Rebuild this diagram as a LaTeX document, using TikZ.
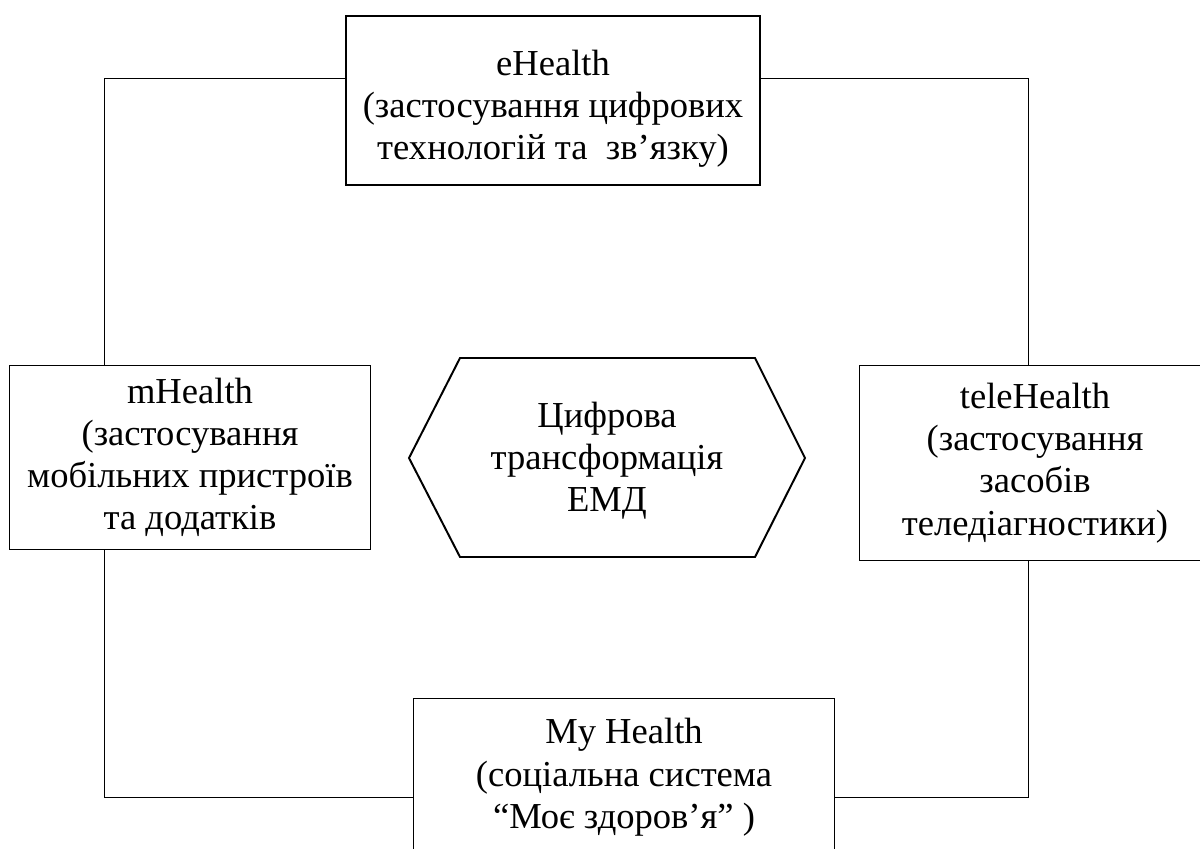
\documentclass[tikz,border=0pt]{standalone}
\usepackage{fontspec}
\setmainfont{Liberation Serif}
\usetikzlibrary{positioning}

\tikzset{
    box/.style={draw, line width=0.7pt, align=center, inner sep=0pt,
        font=\fontsize{26}{30}\selectfont},
    mainbox/.style={box, line width=1.4pt},
    hexa/.style={line width=1.4pt},
    link/.style={line width=0.7pt}
}

\begin{document}
\begin{tikzpicture}[x=0.025cm, y=-0.025cm]
    % Fix the page size
    \useasboundingbox (0,0) rectangle (1200,848);
    \clip (0,0) rectangle (1200,848);

    % Draw the four boxes
    \node[mainbox, minimum width=10.35cm, minimum height=4.225cm] (ehealth) at (553,100.5)
        {\rule{0pt}{30pt}eHealth\\(застосування цифрових\\технологій та~~зв’язку)};
    \node[box, minimum width=9cm, minimum height=4.575cm] (mhealth) at (190,457.5)
        {mHealth\\(застосування\\мобільних пристроїв\\та додатків};
    \node[box, minimum width=8.75cm, minimum height=4.85cm] (telehealth) at (1035,463)
        {teleHealth\\(застосування\\засобів\\теледіагностики)};
    \node[box, minimum width=10.5cm, inner ysep=0.5cm, text depth=4cm, anchor=north] (myhealth) at (624,698)
        {My Health\\(соціальна система\\“Моє здоров’я” )};

    % Draw the hexagon in the middle
    \draw[hexa] (409,458) -- (460,358) -- (755,358) -- (805,458) -- (755,557) -- (460,557) -- cycle;
    \node[box, draw=none] (core) at (607,461) {Цифрова\\трансформація\\ЕМД};

    % Define the corners of the ring
    \coordinate (ul) at (104,78);
    \coordinate (ur) at (1028,78);
    \coordinate (ll) at (104,797);
    \coordinate (lr) at (1028,797);

    % Draw the ring of lines between the boxes
    \draw[link] (ul -| ehealth.west) -- (ul) -- (ul |- mhealth.north);
    \draw[link] (ur -| ehealth.east) -- (ur) -- (ur |- telehealth.north);
    \draw[link] (ll |- mhealth.south) -- (ll) -- (ll -| myhealth.west);
    \draw[link] (lr |- telehealth.south) -- (lr) -- (lr -| myhealth.east);

\end{tikzpicture}
\end{document}
